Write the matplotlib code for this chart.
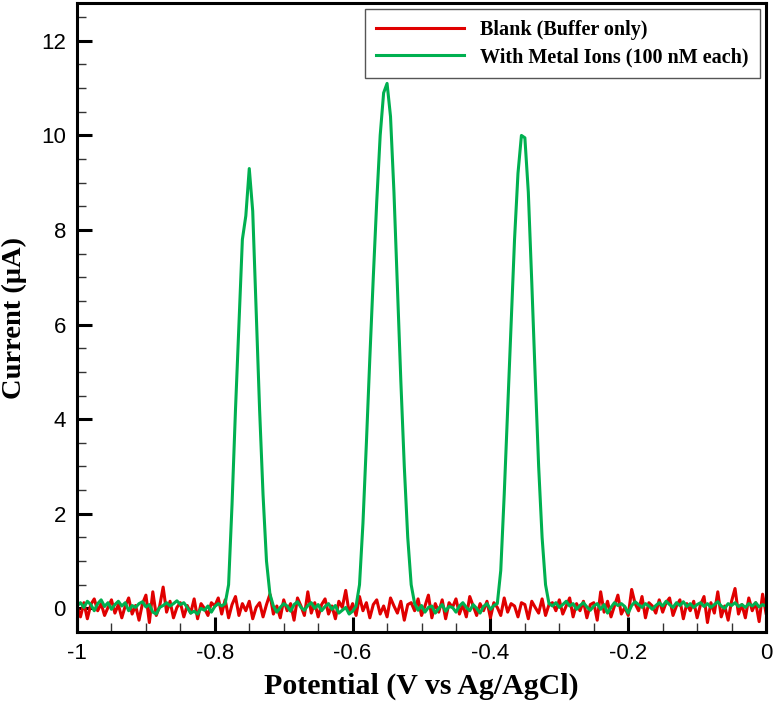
import numpy as np
import matplotlib
matplotlib.use("Agg")
import matplotlib.pyplot as plt
from matplotlib.ticker import MultipleLocator

# potential axis, sampled every 5 mV from -1.0 to 0.0 V
potential = np.round(np.arange(201) * 0.005 - 1.0, 4)

blank_current = [
    0.05, -0.18, 0.12, -0.22, 0.08, 0.20, -0.05, 0.10, -0.15, 0.02,
    0.18, -0.10, 0.08, -0.20, 0.05, 0.22, -0.12, 0.06, -0.25, 0.10,
    0.28, -0.30, 0.35, -0.15, 0.05, 0.45, -0.08, 0.15, -0.20, 0.02,
    0.12, -0.18, 0.06, -0.10, 0.20, -0.22, 0.10, 0.00, -0.15, 0.12,
    0.05, 0.22, -0.12, 0.18, -0.20, 0.08, 0.25, -0.15, 0.10, -0.05,
    0.15, -0.22, 0.02, 0.12, -0.18, 0.08, 0.30, -0.12, 0.05, -0.20,
    0.18, -0.05, 0.10, -0.25, 0.22, 0.05, -0.15, 0.35, -0.10, 0.12,
    -0.18, 0.08, 0.20, -0.12, 0.05, -0.22, 0.15, 0.02, 0.38, -0.10,
    0.10, -0.15, 0.25, -0.05, 0.12, -0.20, 0.08, 0.18, -0.12, 0.05,
    -0.18, 0.22, 0.05, -0.10, 0.15, -0.25, 0.08, 0.12, -0.05, 0.20,
    -0.15, 0.05, 0.28, -0.20, 0.10, -0.08, 0.18, -0.22, 0.12, 0.02,
    0.20, -0.12, 0.08, -0.18, 0.25, 0.05, -0.15, 0.10, -0.05, 0.15,
    -0.20, 0.12, 0.02, -0.15, 0.22, -0.08, 0.10, 0.05, -0.18, 0.12,
    0.08, -0.22, 0.15, 0.02, -0.10, 0.20, -0.15, 0.08, 0.12, -0.05,
    0.18, -0.12, 0.05, 0.22, -0.18, 0.10, -0.05, 0.15, -0.20, 0.08,
    0.12, -0.25, 0.35, -0.08, 0.15, -0.18, 0.05, 0.28, -0.12, 0.02,
    -0.15, 0.40, 0.10, -0.05, 0.25, -0.20, 0.12, 0.05, -0.10, 0.18,
    -0.08, 0.12, 0.22, -0.15, 0.05, 0.18, -0.22, 0.10, -0.05, 0.15,
    -0.20, 0.08, 0.25, -0.30, 0.12, -0.10, 0.35, -0.18, 0.05, -0.25,
    0.15, 0.42, -0.12, 0.08, -0.20, 0.22, -0.05, 0.12, -0.28, 0.30,
    -0.10,
]

metal_current = [
    0.05, 0.12, 0.02, 0.15, 0.08, -0.05, 0.10, 0.18, 0.04, 0.12,
    -0.02, 0.08, 0.15, 0.05, 0.12, -0.05, 0.06, 0.02, 0.10, 0.14,
    0.03, 0.08, -0.08, -0.12, 0.02, 0.06, 0.12, 0.05, 0.10, 0.16,
    0.08, 0.12, 0.02, -0.10, -0.06, -0.12, 0.00, -0.04, 0.05, -0.08,
    0.04, 0.10, 0.05, 0.10, 0.50, 2.20, 4.20, 6.00, 7.80, 8.30,
    9.30, 8.40, 6.30, 4.20, 2.40, 1.00, 0.30, 0.05, -0.08, 0.02,
    0.10, 0.05, -0.06, 0.08, 0.14, 0.02, -0.04, 0.06, 0.12, 0.00,
    0.08, -0.05, 0.04, 0.10, -0.02, 0.06, -0.10, -0.04, 0.02, -0.12,
    -0.06, 0.05, 0.50, 1.80, 3.50, 5.30, 7.00, 8.60, 10.00, 10.90,
    11.10, 10.40, 8.80, 6.80, 4.80, 3.00, 1.50, 0.50, 0.10, -0.04,
    0.06, -0.08, 0.02, 0.05, -0.10, 0.00, 0.08, -0.06, 0.04, 0.02,
    -0.08, 0.05, 0.12, 0.02, -0.05, 0.08, 0.00, -0.10, 0.04, 0.10,
    -0.02, 0.06, 0.10, 0.80, 2.40, 4.20, 6.00, 7.80, 9.20, 10.00,
    9.95, 8.80, 6.90, 4.90, 3.00, 1.50, 0.50, 0.10, 0.05, 0.12,
    0.02, 0.08, 0.15, 0.05, 0.10, -0.02, 0.06, 0.12, 0.03, -0.04,
    0.05, 0.10, -0.02, 0.08, -0.10, 0.02, 0.12, 0.06, 0.10, 0.04,
    -0.10, 0.06, 0.14, 0.08, 0.02, 0.10, 0.05, -0.02, 0.06, 0.12,
    0.05, 0.15, 0.08, 0.02, 0.12, 0.06, 0.14, 0.04, 0.10, 0.02,
    0.08, 0.12, 0.04, 0.10, 0.02, 0.08, 0.14, 0.05, 0.00, 0.10,
    0.06, 0.12, 0.04, 0.08, 0.02, 0.10, 0.05, 0.12, 0.03, 0.08,
    0.05,
]

series_labels = ["Blank (Buffer only)", "With Metal Ions (100 nM each)"]

fig = plt.figure(figsize=(7.74, 7.02), dpi=100)
ax = fig.add_axes([0.0995, 0.0997, 0.8902, 0.896])

ax.plot(potential, blank_current, color="#e00000", lw=2.2, label=series_labels[0])
ax.plot(potential, metal_current, color="#00b050", lw=2.2, label=series_labels[1])

ax.set_xlim(-1, 0)
ax.set_ylim(-0.5, 12.8)
ax.xaxis.set_major_locator(MultipleLocator(0.2))
ax.xaxis.set_minor_locator(MultipleLocator(0.05))
ax.yaxis.set_major_locator(MultipleLocator(2))
ax.yaxis.set_minor_locator(MultipleLocator(0.5))
ax.xaxis.set_major_formatter(plt.FuncFormatter(lambda v, _: f"{round(v, 6) + 0:g}"))

for side in ax.spines.values():
    side.set_linewidth(2.2)
ax.tick_params(which="major", direction="in", length=11, width=2.2,
               labelsize=16, pad=8)
ax.tick_params(which="minor", direction="in", length=6.5, width=1.0, color="#333333")
for lab in ax.get_xticklabels() + ax.get_yticklabels():
    lab.set_fontfamily("Liberation Sans")

ax.set_xlabel("Potential (V vs Ag/AgCl)", fontfamily="Liberation Serif",
              fontweight="bold", fontsize=21.5, labelpad=6)
ax.set_ylabel("Current (μA)", fontfamily="Liberation Serif",
              fontweight="bold", fontsize=20.5)
ax.yaxis.set_label_coords(-0.072, 0.5)

leg = ax.legend(loc="upper right", handlelength=4.4, handletextpad=0.8,
                fancybox=False, framealpha=1, edgecolor="#555555",
                borderaxespad=0.3, labelspacing=0.35, borderpad=0.55,
                prop={"family": "Liberation Serif", "weight": "bold", "size": 14.5})
leg.get_frame().set_linewidth(1.0)

fig.savefig("out.png", dpi=100)
